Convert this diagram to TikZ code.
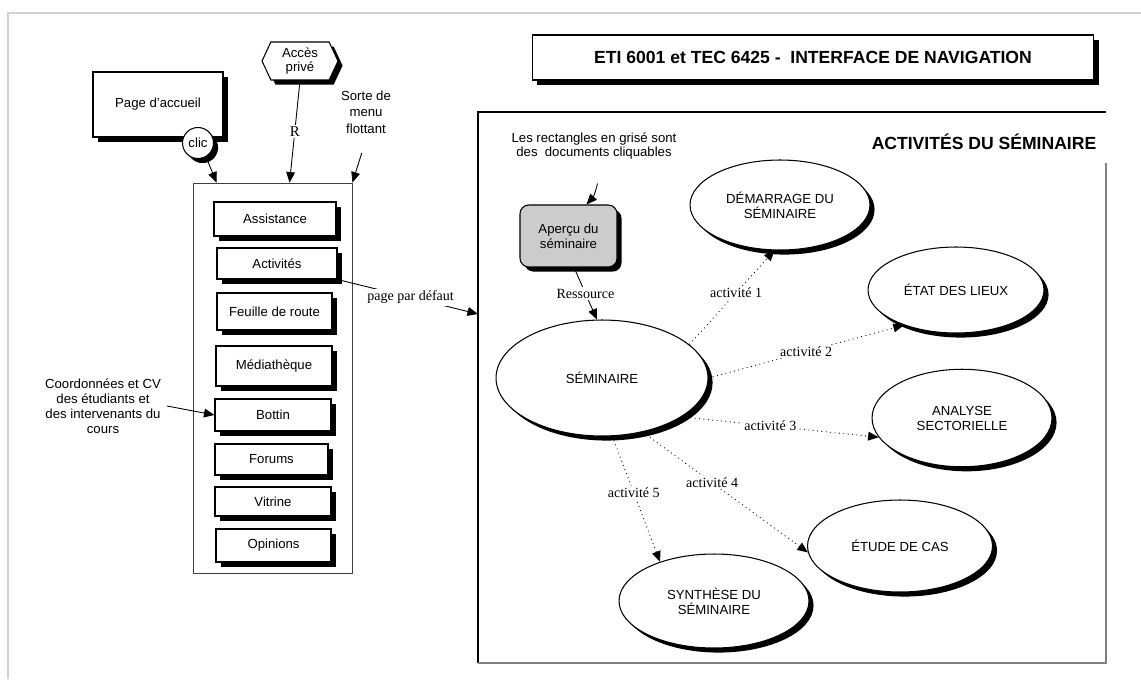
\documentclass[tikz,border=0pt]{standalone}
\usepackage{fontspec}
\setmainfont{Liberation Sans}
\newfontfamily\timesfont{Liberation Serif}
\usetikzlibrary{positioning, shapes.geometric, shapes.symbols, shadows, arrows.meta}

\begin{document}
\begin{tikzpicture}[
    x=0.02cm, y=-0.02cm,
    txt/.style={font=\fontsize{7.5}{8.5}\selectfont, align=center},
    lbl/.style={font=\timesfont\fontsize{8}{9}\selectfont, fill=white, inner sep=1pt},
    shade/.style={drop shadow={shadow xshift=2.6pt, shadow yshift=-2.6pt, fill=black, opacity=1}},
    box/.style={txt, draw, fill=white, line width=0.6pt, inner sep=2pt, shade},
    btn/.style={box},
    oval/.style={txt, ellipse, draw, fill=white, line width=0.6pt, inner sep=1pt, shade},
    arr/.style={-{Triangle[length=6pt, width=5pt]}, line width=0.5pt},
    act/.style={arr, dotted},
  ]
  \useasboundingbox (0,0) rectangle (1141,679);
  % page border
  \draw[gray!35, line width=1.2pt] (8,679) -- (8,13) -- (1141,13);

  % left part: home page and floating menu
  \node[box, minimum width=2.6cm, minimum height=1.3cm] (accueil) at (158,104.5) {Page d'accueil};
  \node[txt, circle, draw, fill=white, line width=0.6pt, minimum size=0.62cm, inner sep=0pt, shade] (clic) at (198,143) {clic};
  \node[txt, signal, signal to=east and west, signal pointer angle=130, draw, fill=white,
        line width=0.6pt, minimum width=1.52cm, minimum height=0.76cm, inner sep=1pt, shade] (acces) at (300,61) {Accès\\privé};
  \node[txt, font=\fontsize{7.5}{9.4}\selectfont] (sorte) at (366,112) {Sorte de\\menu\\flottant};
  \node[draw=black!75, line width=0.5pt, minimum width=3.18cm, minimum height=7.8cm] (menu) at (272.5,378) {};

  \foreach \nm/\txt/\cx/\cy/\ww/\hh in {Assist/Assistance/275/219/2.44/0.68,
      Activ/Activités/277/263.5/2.4/0.62, Feuille/Feuille de route/274.5/311.5/2.3/0.74,
      Media/Médiathèque/274/366/2.32/0.8, Bottin/Bottin/273/415/2.32/0.64,
      Forums/Forums/271.5/459.5/2.26/0.62, Vitrine/Vitrine/273/501.5/2.32/0.58,
      Opinions/Opinions/273.5/545.5/2.3/0.66}
    \node[btn, minimum width=\ww cm, minimum height=\hh cm] (b\nm) at (\cx,\cy) {\txt};

  \node[txt] (coord) at (103,406) {Coordonnées et CV\\des étudiants et\\des intervenants du\\cours};

  \draw[arr] (clic.-60) -- ([xshift=0.48cm]menu.north west);
  \draw[arr] (acces.south) -- node[lbl, font=\timesfont\fontsize{8.5}{9}\selectfont] {R} ([xshift=1.94cm]menu.north west);
  \draw[arr, shorten <=8pt] (sorte.south) -- (menu.north east);
  \draw[arr] (coord.east) -- (bBottin.west);

  % title
  \node[box, font=\bfseries\fontsize{10}{12}\selectfont, minimum width=11.24cm, minimum height=0.9cm] (titre) at (813,57.5)
    {ETI 6001 et TEC 6425 -\ \ INTERFACE DE NAVIGATION};

  % right frame
  \draw[line width=0.6pt] (478,663) -- (478,112) -- (1106,112);
  \draw[gray, line width=0.9pt] (1106,163) -- (1106,663) -- (478,663);
  \coordinate (frameW) at (478,314);
  \draw[arr] (bActiv.south east) -- node[lbl, pos=0.52] {page par défaut} (frameW);

  \node[font=\bfseries\fontsize{10}{12}\selectfont] (activ) at (984,142) {ACTIVITÉS DU SÉMINAIRE};
  \node[txt] (note) at (594,146) {Les rectangles en grisé sont\\des\ \ documents cliquables};

  \node[box, rounded corners=5pt, fill=black!20, minimum width=1.94cm, minimum height=1.24cm] (apercu) at (568.5,236) {Aperçu du\\séminaire};
  \draw[arr] ([xshift=2pt, yshift=-10pt]note.south) to[bend left=15] ([xshift=0.36cm]apercu.north);

  % seminar activities
  \node[oval, minimum width=4.24cm, minimum height=2.32cm] (sem) at (602,378) {SÉMINAIRE};
  \node[oval, minimum width=3.6cm, minimum height=1.8cm] (demarr) at (780,205) {DÉMARRAGE DU\\SÉMINAIRE};
  \node[oval, minimum width=3.52cm, minimum height=1.72cm] (etat) at (956,290) {ÉTAT DES LIEUX};
  \node[oval, minimum width=3.6cm, minimum height=1.95cm] (analyse) at (962,418) {ANALYSE\\SECTORIELLE};
  \node[oval, minimum width=3.7cm, minimum height=1.84cm] (etude) at (900,546) {ÉTUDE DE CAS};
  \node[oval, minimum width=3.8cm, minimum height=1.88cm] (synth) at (714,601) {SYNTHÈSE DU\\SÉMINAIRE};

  \draw[arr] (apercu.-80) -- node[lbl] {Ressource} (sem.95);
  \draw[act] (sem.21) -- node[lbl, pos=0.55] {activité 1} (demarr.-97);
  \draw[act] (sem.0) -- node[lbl] {activité 2} (etat.214);
  \draw[act] (sem.-26) -- node[lbl, pos=0.45] {activité 3} (analyse.193);
  \draw[act] (sem.-53) -- node[lbl, pos=0.42] {activité 4} (etude.184);
  \draw[act] (sem.-80) -- node[lbl, pos=0.45] {activité 5} (synth.144);
\end{tikzpicture}
\end{document}
